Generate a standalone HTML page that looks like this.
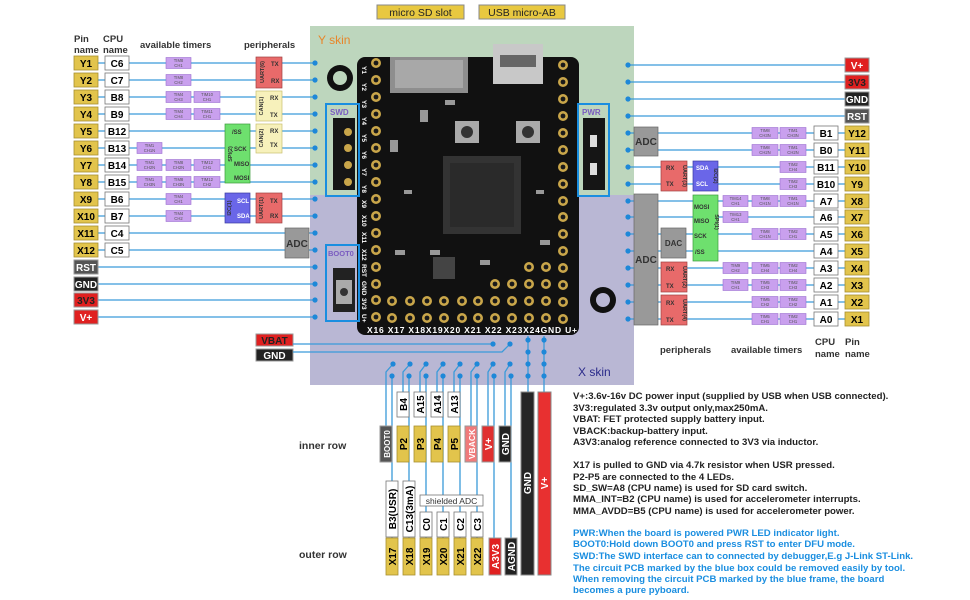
<!DOCTYPE html>
<html><head><meta charset="utf-8"><style>
body{margin:0;background:#fff}
svg{display:block;font-family:"Liberation Sans",sans-serif}
.lb{font-weight:bold;font-size:10px}
.tm{font-size:4.2px;fill:#555}
.ln{stroke:#3a9ad9;stroke-width:1.3;fill:none}
.dt{fill:#1e88d8}
.wt{fill:#fff;stroke:#777;stroke-width:.8}
.yl{fill:#e2c44c;stroke:#a89030;stroke-width:.8}
.tb{fill:#c9a0ee;stroke:#9b6fd0;stroke-width:.6}
.pin{fill:#c9a64a}
.ph{fill:#1a1a1a}
.hd{font-size:9.5px;font-weight:bold;fill:#333}
.nt{font-size:9.6px;fill:#222;font-weight:bold}
.bt{font-size:9.6px;fill:#1a8ee0;font-weight:bold}
</style></head><body>
<svg width="970" height="600" viewBox="0 0 970 600" xmlns="http://www.w3.org/2000/svg">
<rect x="310" y="26" width="324" height="169" fill="#bdd6bd"/>
<rect x="310" y="195" width="324" height="190" fill="#b9b7d4"/>
<text x="318" y="44" font-size="12" fill="#e8862a">Y skin</text>
<text x="578" y="376" font-size="12" fill="#2a2a8a">X skin</text>
<rect x="377" y="5" width="87" height="14" fill="#e8c840" stroke="#888"/>
<text x="420.5" y="16" font-size="10.5" text-anchor="middle" fill="#222">micro SD slot</text>
<rect x="479" y="5" width="86" height="14" fill="#e8c840" stroke="#888"/>
<text x="522" y="16" font-size="10.5" text-anchor="middle" fill="#222">USB micro-AB</text>

<text class="hd" x="74" y="42">Pin</text><text class="hd" x="74" y="53">name</text>
<text class="hd" x="103" y="42">CPU</text><text class="hd" x="103" y="53">name</text>
<text class="hd" x="140" y="48">available timers</text>
<text class="hd" x="244" y="48">peripherals</text>

<g class="ln">
<path d="M98 63H315M98 80H315M98 97H315M98 114H315M98 131H315M98 148H315M98 165H315M98 182H315M98 199H315M98 216H315M98 233H315M98 250H315M98 267H315M98 284H315M98 300H315M98 317H315"/>
</g>
<g class="dt">
<circle cx="315" cy="63" r="2.6"/><circle cx="315" cy="80" r="2.6"/><circle cx="315" cy="97" r="2.6"/><circle cx="315" cy="114" r="2.6"/><circle cx="315" cy="131" r="2.6"/><circle cx="315" cy="148" r="2.6"/><circle cx="315" cy="165" r="2.6"/><circle cx="315" cy="182" r="2.6"/><circle cx="315" cy="199" r="2.6"/><circle cx="315" cy="216" r="2.6"/><circle cx="315" cy="233" r="2.6"/><circle cx="315" cy="250" r="2.6"/><circle cx="315" cy="267" r="2.6"/><circle cx="315" cy="284" r="2.6"/><circle cx="315" cy="300" r="2.6"/><circle cx="315" cy="317" r="2.6"/>
</g>
<g class="lb" text-anchor="middle">
<rect class="yl" x="74" y="56" width="24" height="14"/><text x="86" y="67">Y1</text>
<rect class="yl" x="74" y="73" width="24" height="14"/><text x="86" y="84">Y2</text>
<rect class="yl" x="74" y="90" width="24" height="14"/><text x="86" y="101">Y3</text>
<rect class="yl" x="74" y="107" width="24" height="14"/><text x="86" y="118">Y4</text>
<rect class="yl" x="74" y="124" width="24" height="14"/><text x="86" y="135">Y5</text>
<rect class="yl" x="74" y="141" width="24" height="14"/><text x="86" y="152">Y6</text>
<rect class="yl" x="74" y="158" width="24" height="14"/><text x="86" y="169">Y7</text>
<rect class="yl" x="74" y="175" width="24" height="14"/><text x="86" y="186">Y8</text>
<rect class="yl" x="74" y="192" width="24" height="14"/><text x="86" y="203">X9</text>
<rect class="yl" x="74" y="209" width="24" height="14"/><text x="86" y="220">X10</text>
<rect class="yl" x="74" y="226" width="24" height="14"/><text x="86" y="237">X11</text>
<rect class="yl" x="74" y="243" width="24" height="14"/><text x="86" y="254">X12</text>
<rect x="74" y="260" width="24" height="14" fill="#555" stroke="#999"/><text x="86" y="271" fill="#fff">RST</text>
<rect x="74" y="277" width="24" height="14" fill="#222" stroke="#999"/><text x="86" y="288" fill="#fff">GND</text>
<rect x="74" y="293" width="24" height="14" fill="#e02020" stroke="#999"/><text x="86" y="304" fill="#222">3V3</text>
<rect x="74" y="310" width="24" height="14" fill="#e02020" stroke="#999"/><text x="86" y="321" fill="#fff">V+</text>
<rect class="wt" x="105" y="56" width="24" height="14"/><text x="117" y="67">C6</text>
<rect class="wt" x="105" y="73" width="24" height="14"/><text x="117" y="84">C7</text>
<rect class="wt" x="105" y="90" width="24" height="14"/><text x="117" y="101">B8</text>
<rect class="wt" x="105" y="107" width="24" height="14"/><text x="117" y="118">B9</text>
<rect class="wt" x="105" y="124" width="24" height="14"/><text x="117" y="135">B12</text>
<rect class="wt" x="105" y="141" width="24" height="14"/><text x="117" y="152">B13</text>
<rect class="wt" x="105" y="158" width="24" height="14"/><text x="117" y="169">B14</text>
<rect class="wt" x="105" y="175" width="24" height="14"/><text x="117" y="186">B15</text>
<rect class="wt" x="105" y="192" width="24" height="14"/><text x="117" y="203">B6</text>
<rect class="wt" x="105" y="209" width="24" height="14"/><text x="117" y="220">B7</text>
<rect class="wt" x="105" y="226" width="24" height="14"/><text x="117" y="237">C4</text>
<rect class="wt" x="105" y="243" width="24" height="14"/><text x="117" y="254">C5</text>
</g>
<g class="tm" text-anchor="middle">
<rect class="tb" x="166" y="57.5" width="25" height="11"/><text x="178.5" y="62">TIM8</text><text x="178.5" y="67">CH1</text>
<rect class="tb" x="166" y="74.5" width="25" height="11"/><text x="178.5" y="79">TIM8</text><text x="178.5" y="84">CH2</text>
<rect class="tb" x="166" y="91.5" width="25" height="11"/><text x="178.5" y="96">TIM4</text><text x="178.5" y="101">CH3</text>
<rect class="tb" x="194" y="91.5" width="26" height="11"/><text x="207" y="96">TIM10</text><text x="207" y="101">CH1</text>
<rect class="tb" x="166" y="108.5" width="25" height="11"/><text x="178.5" y="113">TIM4</text><text x="178.5" y="118">CH4</text>
<rect class="tb" x="194" y="108.5" width="26" height="11"/><text x="207" y="113">TIM11</text><text x="207" y="118">CH1</text>
<rect class="tb" x="137" y="142.5" width="25" height="11"/><text x="149.5" y="147">TIM1</text><text x="149.5" y="152">CH1N</text>
<rect class="tb" x="137" y="159.5" width="25" height="11"/><text x="149.5" y="164">TIM1</text><text x="149.5" y="169">CH2N</text>
<rect class="tb" x="166" y="159.5" width="25" height="11"/><text x="178.5" y="164">TIM8</text><text x="178.5" y="169">CH2N</text>
<rect class="tb" x="194" y="159.5" width="26" height="11"/><text x="207" y="164">TIM12</text><text x="207" y="169">CH1</text>
<rect class="tb" x="137" y="176.5" width="25" height="11"/><text x="149.5" y="181">TIM1</text><text x="149.5" y="186">CH3N</text>
<rect class="tb" x="166" y="176.5" width="25" height="11"/><text x="178.5" y="181">TIM8</text><text x="178.5" y="186">CH3N</text>
<rect class="tb" x="194" y="176.5" width="26" height="11"/><text x="207" y="181">TIM12</text><text x="207" y="186">CH2</text>
<rect class="tb" x="166" y="193.5" width="25" height="11"/><text x="178.5" y="198">TIM4</text><text x="178.5" y="203">CH1</text>
<rect class="tb" x="166" y="210.5" width="25" height="11"/><text x="178.5" y="215">TIM4</text><text x="178.5" y="220">CH2</text>
</g>
<g font-size="6" font-weight="bold" fill="#333">
<rect x="256" y="57" width="26" height="31" fill="#e86a6a" stroke="#a04040" stroke-width=".7"/>
<text transform="translate(264,72) rotate(-90)" text-anchor="middle" font-size="5.5">UART(6)</text>
<text x="271" y="66">TX</text><text x="271" y="83">RX</text>
<rect x="256" y="91" width="26" height="30" fill="#f7f1bb" stroke="#c8bf70" stroke-width=".7"/>
<text transform="translate(263,106) rotate(-90)" text-anchor="middle" font-size="5.5">CAN(1)</text>
<text x="270" y="100">RX</text><text x="270" y="117">TX</text>
<rect x="256" y="124" width="26" height="29" fill="#f7f1bb" stroke="#c8bf70" stroke-width=".7"/>
<text transform="translate(263,138) rotate(-90)" text-anchor="middle" font-size="5.5">CAN(2)</text>
<text x="270" y="133">RX</text><text x="270" y="147">TX</text>
<rect x="225" y="124" width="25" height="59" fill="#6ee06e" stroke="#3a9a3a" stroke-width=".7"/>
<text transform="translate(232,154) rotate(-90)" text-anchor="middle" font-size="5.5">SPI(2)</text>
<text x="232" y="134">/SS</text><text x="234" y="151">SCK</text><text x="234" y="166">MISO</text><text x="234" y="180">MOSI</text>
<rect x="225" y="193" width="25" height="30" fill="#6a66e8" stroke="#3a3aa0" stroke-width=".7"/>
<text transform="translate(231,208) rotate(-90)" text-anchor="middle" font-size="5.5">I2C(1)</text>
<text x="237" y="203" fill="#fff">SCL</text><text x="237" y="218" fill="#fff">SDA</text>
<rect x="256" y="193" width="26" height="30" fill="#e86a6a" stroke="#a04040" stroke-width=".7"/>
<text transform="translate(263,208) rotate(-90)" text-anchor="middle" font-size="5.5">UART(1)</text>
<text x="270" y="203">TX</text><text x="270" y="218">RX</text>
<rect x="285" y="228" width="24" height="30" fill="#999" stroke="#666" stroke-width=".7"/>
<text x="297" y="247" font-size="10" text-anchor="middle">ADC</text>
</g>

<g class="ln">
<path d="M628 65H845M628 82H845M628 99H845M628 116H845M628 133H814M628 150H814M628 167H814M628 184H814M628 201H814M628 217H814M628 234H814M628 251H814M628 268H814M628 285H814M628 302H814M628 319H814M838 133H845M838 150H845M838 167H845M838 184H845M838 201H845M838 217H845M838 234H845M838 251H845M838 268H845M838 285H845M838 302H845M838 319H845"/>
</g>
<g class="dt">
<circle cx="628" cy="65" r="2.6"/><circle cx="628" cy="82" r="2.6"/><circle cx="628" cy="99" r="2.6"/><circle cx="628" cy="116" r="2.6"/><circle cx="628" cy="133" r="2.6"/><circle cx="628" cy="150" r="2.6"/><circle cx="628" cy="167" r="2.6"/><circle cx="628" cy="184" r="2.6"/><circle cx="628" cy="201" r="2.6"/><circle cx="628" cy="217" r="2.6"/><circle cx="628" cy="234" r="2.6"/><circle cx="628" cy="251" r="2.6"/><circle cx="628" cy="268" r="2.6"/><circle cx="628" cy="285" r="2.6"/><circle cx="628" cy="302" r="2.6"/><circle cx="628" cy="319" r="2.6"/>
</g>
<g class="lb" text-anchor="middle">
<rect x="845" y="58" width="24" height="14" fill="#e02020" stroke="#999"/><text x="857" y="69" fill="#fff">V+</text>
<rect x="845" y="75" width="24" height="14" fill="#e02020" stroke="#999"/><text x="857" y="86" fill="#222">3V3</text>
<rect x="845" y="92" width="24" height="14" fill="#222" stroke="#999"/><text x="857" y="103" fill="#fff">GND</text>
<rect x="845" y="109" width="24" height="14" fill="#555" stroke="#999"/><text x="857" y="120" fill="#fff">RST</text>
<rect class="yl" x="845" y="126" width="24" height="14"/><text x="857" y="137">Y12</text>
<rect class="yl" x="845" y="143" width="24" height="14"/><text x="857" y="154">Y11</text>
<rect class="yl" x="845" y="160" width="24" height="14"/><text x="857" y="171">Y10</text>
<rect class="yl" x="845" y="177" width="24" height="14"/><text x="857" y="188">Y9</text>
<rect class="yl" x="845" y="194" width="24" height="14"/><text x="857" y="205">X8</text>
<rect class="yl" x="845" y="210" width="24" height="14"/><text x="857" y="221">X7</text>
<rect class="yl" x="845" y="227" width="24" height="14"/><text x="857" y="238">X6</text>
<rect class="yl" x="845" y="244" width="24" height="14"/><text x="857" y="255">X5</text>
<rect class="yl" x="845" y="261" width="24" height="14"/><text x="857" y="272">X4</text>
<rect class="yl" x="845" y="278" width="24" height="14"/><text x="857" y="289">X3</text>
<rect class="yl" x="845" y="295" width="24" height="14"/><text x="857" y="306">X2</text>
<rect class="yl" x="845" y="312" width="24" height="14"/><text x="857" y="323">X1</text>
<rect class="wt" x="814" y="126" width="24" height="14"/><text x="826" y="137">B1</text>
<rect class="wt" x="814" y="143" width="24" height="14"/><text x="826" y="154">B0</text>
<rect class="wt" x="814" y="160" width="24" height="14"/><text x="826" y="171">B11</text>
<rect class="wt" x="814" y="177" width="24" height="14"/><text x="826" y="188">B10</text>
<rect class="wt" x="814" y="194" width="24" height="14"/><text x="826" y="205">A7</text>
<rect class="wt" x="814" y="210" width="24" height="14"/><text x="826" y="221">A6</text>
<rect class="wt" x="814" y="227" width="24" height="14"/><text x="826" y="238">A5</text>
<rect class="wt" x="814" y="244" width="24" height="14"/><text x="826" y="255">A4</text>
<rect class="wt" x="814" y="261" width="24" height="14"/><text x="826" y="272">A3</text>
<rect class="wt" x="814" y="278" width="24" height="14"/><text x="826" y="289">A2</text>
<rect class="wt" x="814" y="295" width="24" height="14"/><text x="826" y="306">A1</text>
<rect class="wt" x="814" y="312" width="24" height="14"/><text x="826" y="323">A0</text>
</g>
<g class="tm" text-anchor="middle">
<rect class="tb" x="752" y="127.5" width="26" height="11"/><text x="765" y="132">TIM8</text><text x="765" y="137">CH3N</text>
<rect class="tb" x="780" y="127.5" width="26" height="11"/><text x="793" y="132">TIM1</text><text x="793" y="137">CH3N</text>
<rect class="tb" x="752" y="144.5" width="26" height="11"/><text x="765" y="149">TIM8</text><text x="765" y="154">CH2N</text>
<rect class="tb" x="780" y="144.5" width="26" height="11"/><text x="793" y="149">TIM1</text><text x="793" y="154">CH2N</text>
<rect class="tb" x="780" y="161.5" width="26" height="11"/><text x="793" y="166">TIM2</text><text x="793" y="171">CH4</text>
<rect class="tb" x="780" y="178.5" width="26" height="11"/><text x="793" y="183">TIM2</text><text x="793" y="188">CH3</text>
<rect class="tb" x="723" y="195.5" width="25" height="11"/><text x="735.5" y="200">TIM14</text><text x="735.5" y="205">CH1</text>
<rect class="tb" x="752" y="195.5" width="26" height="11"/><text x="765" y="200">TIM8</text><text x="765" y="205">CH1N</text>
<rect class="tb" x="780" y="195.5" width="26" height="11"/><text x="793" y="200">TIM1</text><text x="793" y="205">CH1N</text>
<rect class="tb" x="723" y="211.5" width="25" height="11"/><text x="735.5" y="216">TIM13</text><text x="735.5" y="221">CH1</text>
<rect class="tb" x="752" y="228.5" width="26" height="11"/><text x="765" y="233">TIM8</text><text x="765" y="238">CH1N</text>
<rect class="tb" x="780" y="228.5" width="26" height="11"/><text x="793" y="233">TIM2</text><text x="793" y="238">CH1</text>
<rect class="tb" x="723" y="262.5" width="25" height="11"/><text x="735.5" y="267">TIM9</text><text x="735.5" y="272">CH2</text>
<rect class="tb" x="752" y="262.5" width="26" height="11"/><text x="765" y="267">TIM5</text><text x="765" y="272">CH4</text>
<rect class="tb" x="780" y="262.5" width="26" height="11"/><text x="793" y="267">TIM2</text><text x="793" y="272">CH4</text>
<rect class="tb" x="723" y="279.5" width="25" height="11"/><text x="735.5" y="284">TIM9</text><text x="735.5" y="289">CH1</text>
<rect class="tb" x="752" y="279.5" width="26" height="11"/><text x="765" y="284">TIM5</text><text x="765" y="289">CH3</text>
<rect class="tb" x="780" y="279.5" width="26" height="11"/><text x="793" y="284">TIM2</text><text x="793" y="289">CH3</text>
<rect class="tb" x="752" y="296.5" width="26" height="11"/><text x="765" y="301">TIM5</text><text x="765" y="306">CH2</text>
<rect class="tb" x="780" y="296.5" width="26" height="11"/><text x="793" y="301">TIM2</text><text x="793" y="306">CH2</text>
<rect class="tb" x="752" y="313.5" width="26" height="11"/><text x="765" y="318">TIM5</text><text x="765" y="323">CH1</text>
<rect class="tb" x="780" y="313.5" width="26" height="11"/><text x="793" y="318">TIM2</text><text x="793" y="323">CH1</text>
</g>
<g font-size="6" font-weight="bold" fill="#333">
<rect x="634" y="127" width="24" height="29" fill="#999" stroke="#666" stroke-width=".7"/>
<text x="646" y="145" font-size="10" text-anchor="middle">ADC</text>
<rect x="661" y="161" width="26" height="30" fill="#e86a6a" stroke="#a04040" stroke-width=".7"/>
<text x="666" y="170">RX</text><text x="666" y="186">TX</text>
<text transform="translate(683,176) rotate(90)" text-anchor="middle" font-size="5.5">UART(3)</text>
<rect x="693" y="161" width="25" height="30" fill="#6a66e8" stroke="#3a3aa0" stroke-width=".7"/>
<text x="696" y="170" fill="#fff">SDA</text><text x="696" y="186" fill="#fff">SCL</text>
<text transform="translate(714,176) rotate(90)" text-anchor="middle" font-size="5.5">I2C(2)</text>
<rect x="634" y="194" width="24" height="131" fill="#999" stroke="#666" stroke-width=".7"/>
<text x="646" y="263" font-size="10" text-anchor="middle">ADC</text>
<rect x="693" y="195" width="25" height="66" fill="#6ee06e" stroke="#3a9a3a" stroke-width=".7"/>
<text x="694" y="209">MOSI</text><text x="694" y="223">MISO</text><text x="694" y="238">SCK</text><text x="695" y="254">/SS</text>
<text transform="translate(715,222) rotate(90)" text-anchor="middle" font-size="5.5">SPI(1)</text>
<rect x="661" y="228" width="25" height="30" fill="#999" stroke="#666" stroke-width=".7"/>
<text x="673.5" y="246" font-size="8" text-anchor="middle">DAC</text>
<rect x="661" y="262" width="26" height="30" fill="#e86a6a" stroke="#a04040" stroke-width=".7"/>
<text x="666" y="271">RX</text><text x="666" y="288">TX</text>
<text transform="translate(683,277) rotate(90)" text-anchor="middle" font-size="5.5">UART(2)</text>
<rect x="661" y="295" width="26" height="30" fill="#e86a6a" stroke="#a04040" stroke-width=".7"/>
<text x="666" y="305">RX</text><text x="666" y="322">TX</text>
<text transform="translate(683,310) rotate(90)" text-anchor="middle" font-size="5.5">UART(4)</text>
</g>
<text class="hd" x="660" y="353">peripherals</text>
<text class="hd" x="731" y="353">available timers</text>
<text class="hd" x="815" y="345">CPU</text><text class="hd" x="815" y="357">name</text>
<text class="hd" x="845" y="345">Pin</text><text class="hd" x="845" y="357">name</text>

<circle cx="340" cy="78" r="13" fill="#111"/><circle cx="340" cy="78" r="7" fill="#bdd6bd"/>
<circle cx="603" cy="300" r="13" fill="#111"/><circle cx="603" cy="300" r="7" fill="#b9b7d4"/>
<rect x="357" y="57" width="222" height="278" rx="8" fill="#111"/>
<rect x="390" y="57" width="78" height="36" fill="#8e8e8e"/>
<rect x="395" y="60" width="68" height="28" fill="#a8a8a8"/>
<rect x="493" y="44" width="50" height="40" fill="#c8c8c8"/>
<rect x="500" y="55" width="36" height="12" fill="#666"/>
<rect x="455" y="121" width="24" height="22" fill="#aaa"/><circle cx="467" cy="132" r="6" fill="#333"/>
<rect x="516" y="121" width="24" height="22" fill="#aaa"/><circle cx="528" cy="132" r="6" fill="#333"/>
<rect x="443" y="156" width="78" height="78" fill="#333"/>
<rect x="450" y="163" width="64" height="64" fill="#2a2a2a"/>
<g fill="#999"><rect x="404" y="190" width="8" height="4"/><rect x="536" y="190" width="8" height="4"/><rect x="395" y="250" width="10" height="5"/><rect x="430" y="250" width="10" height="5"/><rect x="480" y="260" width="10" height="5"/><rect x="540" y="240" width="10" height="5"/><rect x="420" y="110" width="8" height="12"/><rect x="445" y="100" width="10" height="5"/><rect x="390" y="140" width="8" height="12"/></g>
<rect x="433" y="257" width="22" height="22" fill="#444"/>
<g>
<g class="pin"><circle cx="376" cy="63" r="5"/><circle cx="376" cy="80" r="5"/><circle cx="376" cy="97" r="5"/><circle cx="376" cy="114" r="5"/><circle cx="376" cy="131" r="5"/><circle cx="376" cy="148" r="5"/><circle cx="376" cy="165" r="5"/><circle cx="376" cy="182" r="5"/><circle cx="376" cy="199" r="5"/><circle cx="376" cy="216" r="5"/><circle cx="376" cy="233" r="5"/><circle cx="376" cy="250" r="5"/><circle cx="376" cy="267" r="5"/><circle cx="376" cy="284" r="5"/><circle cx="376" cy="300" r="5"/><circle cx="376" cy="317" r="5"/>
<circle cx="563" cy="65" r="5"/><circle cx="563" cy="82" r="5"/><circle cx="563" cy="99" r="5"/><circle cx="563" cy="116" r="5"/><circle cx="563" cy="133" r="5"/><circle cx="563" cy="150" r="5"/><circle cx="563" cy="167" r="5"/><circle cx="563" cy="184" r="5"/><circle cx="563" cy="201" r="5"/><circle cx="563" cy="217" r="5"/><circle cx="563" cy="234" r="5"/><circle cx="563" cy="251" r="5"/><circle cx="563" cy="268" r="5"/><circle cx="563" cy="285" r="5"/><circle cx="563" cy="302" r="5"/><circle cx="563" cy="319" r="5"/>
<circle cx="392" cy="318" r="5"/><circle cx="410" cy="318" r="5"/><circle cx="427" cy="318" r="5"/><circle cx="444" cy="318" r="5"/><circle cx="462" cy="318" r="5"/><circle cx="478" cy="318" r="5"/><circle cx="495" cy="318" r="5"/><circle cx="512" cy="318" r="5"/><circle cx="529" cy="318" r="5"/><circle cx="546" cy="318" r="5"/>
<circle cx="392" cy="301" r="5"/><circle cx="410" cy="301" r="5"/><circle cx="427" cy="301" r="5"/><circle cx="444" cy="301" r="5"/><circle cx="462" cy="301" r="5"/><circle cx="478" cy="301" r="5"/><circle cx="495" cy="301" r="5"/><circle cx="512" cy="301" r="5"/><circle cx="529" cy="301" r="5"/><circle cx="546" cy="301" r="5"/>
<circle cx="529" cy="284" r="5"/><circle cx="546" cy="284" r="5"/><circle cx="529" cy="267" r="5"/><circle cx="546" cy="267" r="5"/><circle cx="495" cy="284" r="5"/><circle cx="512" cy="284" r="5"/></g>
<g class="ph"><circle cx="376" cy="63" r="2.4"/><circle cx="376" cy="80" r="2.4"/><circle cx="376" cy="97" r="2.4"/><circle cx="376" cy="114" r="2.4"/><circle cx="376" cy="131" r="2.4"/><circle cx="376" cy="148" r="2.4"/><circle cx="376" cy="165" r="2.4"/><circle cx="376" cy="182" r="2.4"/><circle cx="376" cy="199" r="2.4"/><circle cx="376" cy="216" r="2.4"/><circle cx="376" cy="233" r="2.4"/><circle cx="376" cy="250" r="2.4"/><circle cx="376" cy="267" r="2.4"/><circle cx="376" cy="284" r="2.4"/><circle cx="376" cy="300" r="2.4"/><circle cx="376" cy="317" r="2.4"/>
<circle cx="563" cy="65" r="2.4"/><circle cx="563" cy="82" r="2.4"/><circle cx="563" cy="99" r="2.4"/><circle cx="563" cy="116" r="2.4"/><circle cx="563" cy="133" r="2.4"/><circle cx="563" cy="150" r="2.4"/><circle cx="563" cy="167" r="2.4"/><circle cx="563" cy="184" r="2.4"/><circle cx="563" cy="201" r="2.4"/><circle cx="563" cy="217" r="2.4"/><circle cx="563" cy="234" r="2.4"/><circle cx="563" cy="251" r="2.4"/><circle cx="563" cy="268" r="2.4"/><circle cx="563" cy="285" r="2.4"/><circle cx="563" cy="302" r="2.4"/><circle cx="563" cy="319" r="2.4"/>
<circle cx="392" cy="318" r="2.4"/><circle cx="410" cy="318" r="2.4"/><circle cx="427" cy="318" r="2.4"/><circle cx="444" cy="318" r="2.4"/><circle cx="462" cy="318" r="2.4"/><circle cx="478" cy="318" r="2.4"/><circle cx="495" cy="318" r="2.4"/><circle cx="512" cy="318" r="2.4"/><circle cx="529" cy="318" r="2.4"/><circle cx="546" cy="318" r="2.4"/>
<circle cx="392" cy="301" r="2.4"/><circle cx="410" cy="301" r="2.4"/><circle cx="427" cy="301" r="2.4"/><circle cx="444" cy="301" r="2.4"/><circle cx="462" cy="301" r="2.4"/><circle cx="478" cy="301" r="2.4"/><circle cx="495" cy="301" r="2.4"/><circle cx="512" cy="301" r="2.4"/><circle cx="529" cy="301" r="2.4"/><circle cx="546" cy="301" r="2.4"/>
<circle cx="529" cy="284" r="2.4"/><circle cx="546" cy="284" r="2.4"/><circle cx="529" cy="267" r="2.4"/><circle cx="546" cy="267" r="2.4"/><circle cx="495" cy="284" r="2.4"/><circle cx="512" cy="284" r="2.4"/></g>
</g>
<text x="367" y="333" font-size="8.5" font-weight="bold" fill="#fff" textLength="210">X16 X17 X18X19X20 X21 X22 X23X24GND U+</text>
<g font-size="6.5" font-weight="bold" fill="#fff">
<text transform="translate(362,66) rotate(90)">Y1</text><text transform="translate(362,83) rotate(90)">Y2</text><text transform="translate(362,100) rotate(90)">Y3</text><text transform="translate(362,117) rotate(90)">Y4</text><text transform="translate(362,134) rotate(90)">Y5</text><text transform="translate(362,151) rotate(90)">Y6</text><text transform="translate(362,168) rotate(90)">Y7</text><text transform="translate(362,185) rotate(90)">Y8</text><text transform="translate(362,200) rotate(90)">X9</text><text transform="translate(362,215) rotate(90)">X10</text><text transform="translate(362,232) rotate(90)">X11</text><text transform="translate(362,249) rotate(90)">X12</text><text transform="translate(362,264) rotate(90)">RST</text><text transform="translate(362,281) rotate(90)">GND</text><text transform="translate(362,298) rotate(90)">3V3</text><text transform="translate(362,314) rotate(90)">U+</text>
</g>
<rect x="326" y="104" width="33" height="92" fill="none" stroke="#1a8ee0" stroke-width="2"/>
<text x="330" y="115" font-size="8" font-weight="bold" fill="#7a5cc0">SWD</text>
<rect x="333" y="118" width="22" height="72" fill="#151515"/>
<circle cx="348" cy="132" r="4" fill="#c9a64a"/><circle cx="348" cy="148" r="4" fill="#c9a64a"/><circle cx="348" cy="165" r="4" fill="#c9a64a"/><circle cx="348" cy="182" r="4" fill="#c9a64a"/>
<rect x="326" y="245" width="33" height="76" fill="none" stroke="#1a8ee0" stroke-width="2"/>
<text x="328" y="256" font-size="7.5" font-weight="bold" fill="#7a5cc0">BOOT0</text>
<rect x="333" y="268" width="22" height="44" fill="#222"/>
<rect x="336" y="280" width="16" height="24" fill="#aaa"/><circle cx="344" cy="292" r="4" fill="#333"/>
<rect x="578" y="104" width="31" height="92" fill="none" stroke="#1a8ee0" stroke-width="2"/>
<text x="582" y="115" font-size="8" font-weight="bold" fill="#7a5cc0">PWR</text>
<rect x="583" y="118" width="22" height="72" fill="#151515"/>
<rect x="590" y="135" width="7" height="12" fill="#ddd"/><rect x="590" y="163" width="7" height="12" fill="#ddd"/>

<rect x="256" y="334" width="37" height="12" fill="#e02020" stroke="#999"/>
<text x="274.5" y="344" class="lb" text-anchor="middle" fill="#222">VBAT</text>
<rect x="256" y="349" width="37" height="12" fill="#222" stroke="#999"/>
<text x="274.5" y="359" class="lb" text-anchor="middle" fill="#fff">GND</text>
<g class="ln"><path d="M293 344H493M293 352H502L510 344"/></g>
<circle class="dt" cx="493" cy="344" r="2.6"/><circle class="dt" cx="510" cy="344" r="2.6"/>

<g class="ln">
<path d="M393 364L386 372V426M410 364L403 372V392M426 364L420 372V392M443 364L437 372V392M460 364L454 372V392M477 364L471 372V426M493 364L488 372V426M510 364L505 372V426"/>
<path d="M392 376V538M409 376V538M426 376V538M443 376V538M460 376V538M477 376V538M494 376V538M511 376V538"/>
<path d="M528 336V392M544 336V392"/>
</g>
<g class="dt">
<circle cx="393" cy="364" r="2.6"/><circle cx="410" cy="364" r="2.6"/><circle cx="426" cy="364" r="2.6"/><circle cx="443" cy="364" r="2.6"/><circle cx="460" cy="364" r="2.6"/><circle cx="477" cy="364" r="2.6"/><circle cx="493" cy="364" r="2.6"/><circle cx="510" cy="364" r="2.6"/>
<circle cx="392" cy="376" r="2.6"/><circle cx="409" cy="376" r="2.6"/><circle cx="426" cy="376" r="2.6"/><circle cx="443" cy="376" r="2.6"/><circle cx="460" cy="376" r="2.6"/><circle cx="477" cy="376" r="2.6"/><circle cx="494" cy="376" r="2.6"/><circle cx="511" cy="376" r="2.6"/>
<circle cx="528" cy="340" r="2.6"/><circle cx="528" cy="352" r="2.6"/><circle cx="528" cy="364" r="2.6"/><circle cx="528" cy="376" r="2.6"/>
<circle cx="544" cy="340" r="2.6"/><circle cx="544" cy="352" r="2.6"/><circle cx="544" cy="364" r="2.6"/><circle cx="544" cy="376" r="2.6"/>
</g>
<g class="lb" font-size="9.5">
<rect x="380" y="426" width="12" height="36" fill="#555" stroke="#999"/><text transform="translate(390,444) rotate(-90)" text-anchor="middle" fill="#fff" font-size="8">BOOT0</text>
<rect class="wt" x="397" y="392" width="12" height="25"/><text transform="translate(407,404.5) rotate(-90)" text-anchor="middle">B4</text>
<rect class="yl" x="397" y="426" width="12" height="36"/><text transform="translate(407,444) rotate(-90)" text-anchor="middle">P2</text>
<rect class="wt" x="414" y="392" width="12" height="25"/><text transform="translate(424,404.5) rotate(-90)" text-anchor="middle">A15</text>
<rect class="yl" x="414" y="426" width="12" height="36"/><text transform="translate(424,444) rotate(-90)" text-anchor="middle">P3</text>
<rect class="wt" x="431" y="392" width="12" height="25"/><text transform="translate(441,404.5) rotate(-90)" text-anchor="middle">A14</text>
<rect class="yl" x="431" y="426" width="12" height="36"/><text transform="translate(441,444) rotate(-90)" text-anchor="middle">P4</text>
<rect class="wt" x="448" y="392" width="12" height="25"/><text transform="translate(458,404.5) rotate(-90)" text-anchor="middle">A13</text>
<rect class="yl" x="448" y="426" width="12" height="36"/><text transform="translate(458,444) rotate(-90)" text-anchor="middle">P5</text>
<rect x="465" y="426" width="12" height="36" fill="#f07a7a" stroke="#999"/><text transform="translate(475,444) rotate(-90)" text-anchor="middle" fill="#fff" font-size="8.5">VBACK</text>
<rect x="482" y="426" width="12" height="36" fill="#e03030" stroke="#999"/><text transform="translate(492,444) rotate(-90)" text-anchor="middle" fill="#fff">V+</text>
<rect x="499" y="426" width="12" height="36" fill="#222" stroke="#999"/><text transform="translate(509,444) rotate(-90)" text-anchor="middle" fill="#fff">GND</text>
<rect x="521" y="392" width="13" height="183" fill="#262626" stroke="#888"/><text transform="translate(531,483) rotate(-90)" text-anchor="middle" fill="#fff">GND</text>
<rect x="538" y="392" width="13" height="183" fill="#e83030" stroke="#888"/><text transform="translate(548,483) rotate(-90)" text-anchor="middle" fill="#fff">V+</text>
<rect class="wt" x="386" y="481" width="12" height="56"/><text transform="translate(396,509) rotate(-90)" text-anchor="middle">B3(USR)</text>
<rect class="wt" x="403" y="481" width="12" height="56"/><text transform="translate(413,509) rotate(-90)" text-anchor="middle">C13(3mA)</text>
<rect class="wt" x="420" y="512" width="12" height="25"/><text transform="translate(430,524.5) rotate(-90)" text-anchor="middle">C0</text>
<rect class="wt" x="437" y="512" width="12" height="25"/><text transform="translate(447,524.5) rotate(-90)" text-anchor="middle">C1</text>
<rect class="wt" x="454" y="512" width="12" height="25"/><text transform="translate(464,524.5) rotate(-90)" text-anchor="middle">C2</text>
<rect class="wt" x="471" y="512" width="12" height="25"/><text transform="translate(481,524.5) rotate(-90)" text-anchor="middle">C3</text>
<rect class="yl" x="386" y="538" width="12" height="37"/><text transform="translate(396,556.5) rotate(-90)" text-anchor="middle">X17</text>
<rect class="yl" x="403" y="538" width="12" height="37"/><text transform="translate(413,556.5) rotate(-90)" text-anchor="middle">X18</text>
<rect class="yl" x="420" y="538" width="12" height="37"/><text transform="translate(430,556.5) rotate(-90)" text-anchor="middle">X19</text>
<rect class="yl" x="437" y="538" width="12" height="37"/><text transform="translate(447,556.5) rotate(-90)" text-anchor="middle">X20</text>
<rect class="yl" x="454" y="538" width="12" height="37"/><text transform="translate(464,556.5) rotate(-90)" text-anchor="middle">X21</text>
<rect class="yl" x="471" y="538" width="12" height="37"/><text transform="translate(481,556.5) rotate(-90)" text-anchor="middle">X22</text>
<rect x="489" y="538" width="12" height="37" fill="#e02020" stroke="#999"/><text transform="translate(499,556.5) rotate(-90)" text-anchor="middle" fill="#fff">A3V3</text>
<rect x="505" y="538" width="12" height="37" fill="#222" stroke="#999"/><text transform="translate(515,556.5) rotate(-90)" text-anchor="middle" fill="#fff">AGND</text>
</g>
<rect class="wt" x="420" y="495" width="63" height="11"/>
<text x="451.5" y="504" font-size="8.5" text-anchor="middle" fill="#333">shielded ADC</text>
<text x="299" y="449" font-size="10.5" font-weight="bold" fill="#333">inner row</text>
<text x="299" y="558" font-size="10.5" font-weight="bold" fill="#333">outer row</text>

<g class="nt">
<text x="573" y="399">V+:3.6v-16v DC power input  (supplied by USB when USB connected).</text>
<text x="573" y="411">3V3:regulated 3.3v output only,max250mA.</text>
<text x="573" y="422">VBAT: FET protected supply battery input.</text>
<text x="573" y="434">VBACK:backup-battery input.</text>
<text x="573" y="445">A3V3:analog reference connected to 3V3 via inductor.</text>
<text x="573" y="468">X17 is pulled to GND via 4.7k resistor when USR pressed.</text>
<text x="573" y="480">P2-P5 are connected to the 4 LEDs.</text>
<text x="573" y="491">SD_SW=A8  (CPU name)   is used for SD card switch.</text>
<text x="573" y="502">MMA_INT=B2  (CPU name)   is used for accelerometer interrupts.</text>
<text x="573" y="514">MMA_AVDD=B5   (CPU name)  is used for accelerometer power.</text>
</g>
<g class="bt">
<text x="573" y="536">PWR:When the board is powered PWR LED indicator light.</text>
<text x="573" y="547">BOOT0:Hold down BOOT0 and press RST to enter DFU mode.</text>
<text x="573" y="559">SWD:The SWD interface can to connected by debugger,E.g J-Link ST-Link.</text>
<text x="573" y="571">The circuit PCB marked by the blue box could be removed easily by tool.</text>
<text x="573" y="582">When removing the circuit PCB marked by the blue frame, the board</text>
<text x="573" y="593">becomes a pure pyboard.</text>
</g>
</svg>
</body></html>
